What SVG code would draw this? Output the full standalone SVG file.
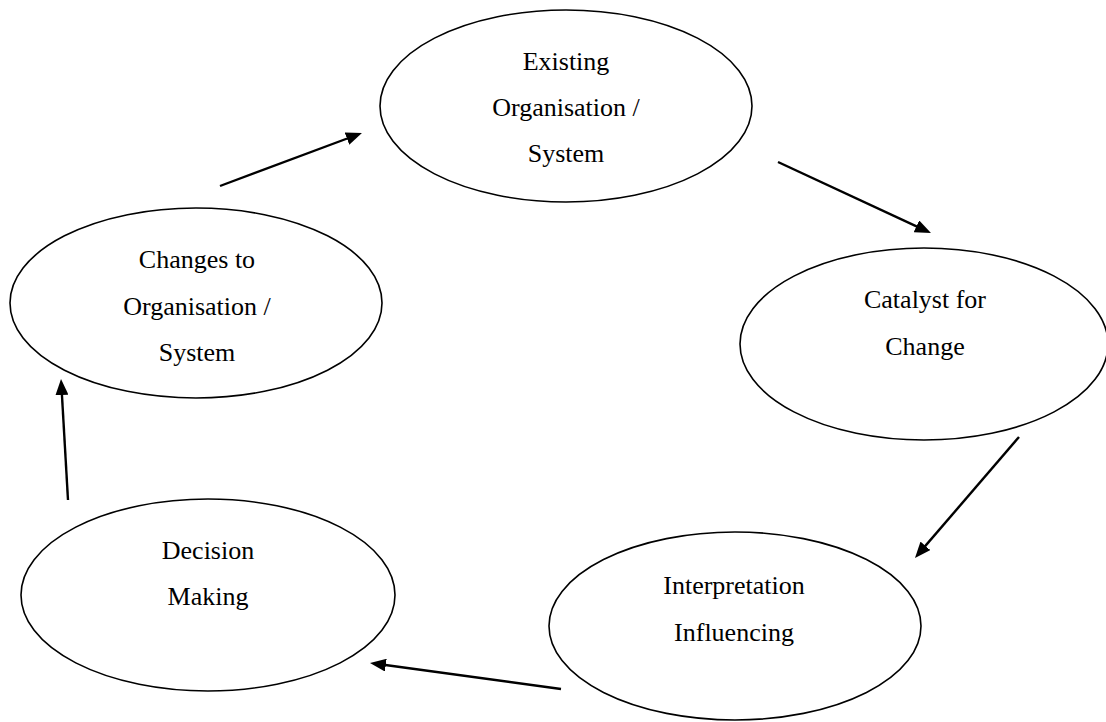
<svg xmlns="http://www.w3.org/2000/svg" width="1106" height="722" viewBox="0 0 1106 722">
<defs>
<style>
.node ellipse{fill:#fff;stroke:#000;stroke-width:1.6}
.node text{font-family:"Liberation Serif","Times New Roman",serif;font-size:26px;fill:#000;text-anchor:middle}
.conn line{stroke:#000;stroke-width:2.4;marker-end:url(#ah)}
</style>
<marker id="ah" markerUnits="userSpaceOnUse" markerWidth="16" markerHeight="13" refX="6" refY="6.5" orient="auto">
<path d="M0,0 L16,6.5 L0,13 z" fill="#000"/>
</marker>
</defs>
<rect width="1106" height="722" fill="#fff"/>
<g id="existing" class="node">
<ellipse cx="566" cy="106" rx="186" ry="96"/>
<text x="566" y="70">Existing</text>
<text x="566" y="116">Organisation /</text>
<text x="566" y="162">System</text>
</g>
<g id="catalyst" class="node">
<ellipse cx="924" cy="344" rx="184" ry="96"/>
<text x="925" y="308">Catalyst for</text>
<text x="925" y="355">Change</text>
</g>
<g id="interpretation" class="node">
<ellipse cx="735" cy="626" rx="186" ry="94"/>
<text x="734" y="594">Interpretation</text>
<text x="734" y="641">Influencing</text>
</g>
<g id="decision" class="node">
<ellipse cx="208" cy="595" rx="187" ry="96"/>
<text x="208" y="559">Decision</text>
<text x="208" y="605">Making</text>
</g>
<g id="changes" class="node">
<ellipse cx="196" cy="303" rx="186" ry="95"/>
<text x="197" y="268">Changes to</text>
<text x="197" y="315">Organisation /</text>
<text x="197" y="361">System</text>
</g>
<g id="connectors" class="conn">
<line x1="220" y1="186" x2="352.6" y2="136.5"/>
<line x1="778" y1="162" x2="921.9" y2="228.8"/>
<line x1="1019" y1="437" x2="921.5" y2="550.4"/>
<line x1="561" y1="689" x2="379.9" y2="664.3"/>
<line x1="68" y1="500" x2="61.6" y2="389"/>
</g>
</svg>
